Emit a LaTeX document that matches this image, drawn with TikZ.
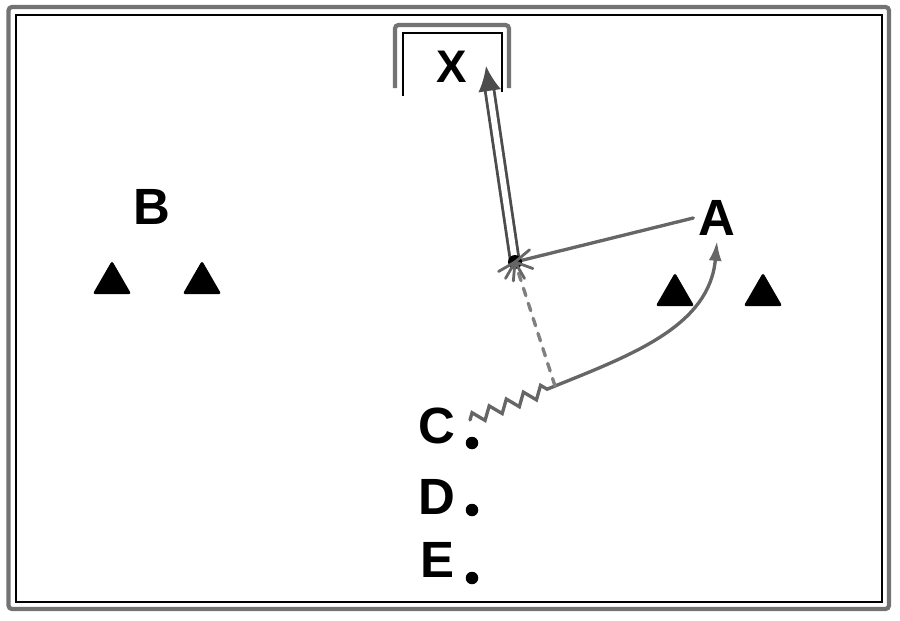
\documentclass[tikz,border=0pt]{standalone}
\usepackage{fontspec}
\setmainfont{Liberation Sans}
\usepackage{tikz}
\usetikzlibrary{arrows.meta,positioning,shapes.geometric,decorations.pathmorphing}

\begin{document}
\begin{tikzpicture}[
  x=0.02cm, y=0.02cm,
  lbl/.style={font=\fontsize{29}{30}\selectfont\bfseries, inner sep=3pt},
  dot/.style={circle, fill=black, minimum size=0.25cm, inner sep=0pt},
  cone/.style={regular polygon, regular polygon sides=3, fill=black, draw=black,
               line width=1.6pt, line join=round, minimum size=0.78cm, inner sep=0pt},
  run/.style={draw=black!60, line width=1.9pt, line cap=round},
  shot/.style={draw=black!70, line width=1.6pt, double=white, double distance=3.4pt,
               -{Latex[length=0.5cm, width=0.46cm]}},
  every node/.style={outer sep=0pt}
]
  \useasboundingbox (0,0) rectangle (900,620);

  % Pitch frame
  \draw[black!55, line width=2.4pt, rounded corners=2pt] (8.5,11) rectangle (889,613);
  \draw[black, line width=1.1pt] (16,18) rectangle (882,605);

  % Goal
  \draw[black!55, line width=2.4pt, rounded corners=2pt] (395,532) -- (395,595) -- (509,595) -- (509,532);
  \draw[black, line width=1.1pt] (403,524) -- (403,587) -- (502,587) -- (502,528);

  % Labels
  \node[lbl, font=\fontsize{26}{27}\selectfont\bfseries] (X) at (452,553) {X};
  \node[lbl] (A) at (717,402) {A};
  \node[lbl] (B) at (152,413) {B};
  \node[lbl] (C) at (437,194) {C};
  \node[lbl] (D) at (437,123) {D};
  \node[lbl] (E) at (437,60) {E};

  % Players in line
  \node[dot] (c) at (472,177) {};
  \node[dot] (d) at (472,110) {};
  \node[dot] (e) at (472,42) {};

  % Cones
  \node[cone] (b1) at (112,337) {};
  \node[cone] (b2) at (202,337) {};
  \node[cone] (a1) at (675,325) {};
  \node[cone] (a2) at (763,325) {};

  % Points of the move
  \coordinate (start) at (470,200);
  \coordinate (turn) at (555,234);
  \coordinate (hit) at (515,358);
  \coordinate (aim) at (486,554);

  % Dribble, run, pass and shot
  \draw[run, decorate, decoration={zigzag, segment length=10.5pt, amplitude=3.4pt}] (start) -- (turn);
  \draw[run, -{Latex[length=0.4cm, width=0.26cm]}] (turn) to[out=22, in=-95] (A.south);
  \draw[run, black!50, dashed, dash pattern=on 4.5pt off 4.5pt] (turn) -- (hit);
  \draw[run] (A.west) -- (hit);
  \draw[shot] (hit) -- (aim);

  % Splash at the point of the shot
  \fill[black] (hit) circle (0.14cm);
  \foreach \ang in {-150,-120,-95,-60,-20,40}
    \draw[black!60, line width=1.6pt, line cap=round] (hit) -- ++(\ang:0.38cm);
\end{tikzpicture}
\end{document}
